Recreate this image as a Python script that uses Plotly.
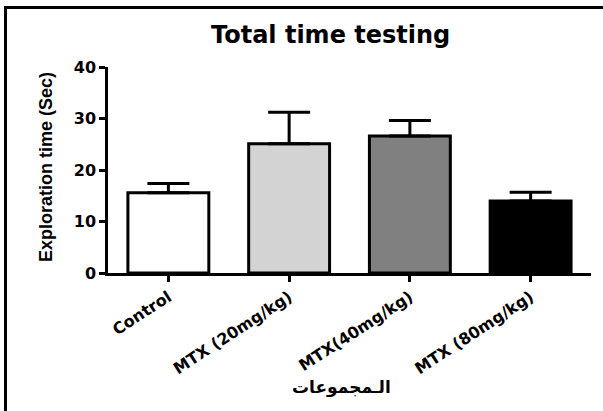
import plotly.graph_objects as go

categories = ["Control", "MTX (20mg/kg)", "MTX(40mg/kg)", "MTX (80mg/kg)"]
means = [15.6, 25.1, 26.6, 14.0]
errors = [1.8, 6.1, 3.0, 1.7]
bar_colors = ["#ffffff", "#d3d3d3", "#808080", "#000000"]
y_ticks = [0, 10, 20, 30, 40]
title_text = "Total time testing"
y_title = "Exploration time (Sec)"
x_title = "الـمجموعات"

W, H = 603, 411
L, R, T, B = 108, 12, 67, 138
pw, ph = W - L - R, H - T - B

def px_x(x):
    return (x - L) / pw

def px_y(y):
    return (H - B - y) / ph

fig = go.Figure()
fig.add_trace(go.Bar(
    x=list(range(len(categories))), y=means,
    width=0.67,
    marker=dict(color=bar_colors, line=dict(color="black", width=3)),
    error_y=dict(type="data", array=errors, arrayminus=[0]*len(errors),
                 symmetric=False, thickness=3, width=21, color="black"),
))

fig.update_layout(
    width=W, height=H,
    margin=dict(l=L, r=R, t=T, b=B, autoexpand=False),
    plot_bgcolor="white", paper_bgcolor="white",
    showlegend=False,
    xaxis=dict(range=[-0.5, 3.5], tickvals=list(range(len(categories))),
               ticktext=categories, tickangle=-33, ticks="outside",
               ticklen=6, tickwidth=2.5, tickcolor="black",
               showline=True, linewidth=2.5, linecolor="black",
               showgrid=False, zeroline=False,
               tickfont=dict(family="DejaVu Sans", size=16, color="black", weight="bold")),
    yaxis=dict(range=[0, 40], tickvals=y_ticks, ticks="outside",
               ticklen=6, tickwidth=2.5, tickcolor="black",
               showline=True, linewidth=2.5, linecolor="black",
               showgrid=False, zeroline=False,
               tickfont=dict(family="DejaVu Sans", size=16, color="black", weight="bold")),
)

fig.add_annotation(text=title_text, xref="paper", yref="paper",
                   x=px_x(330), y=px_y(35), xanchor="center", yanchor="middle",
                   showarrow=False,
                   font=dict(family="DejaVu Sans", size=24, color="black", weight="bold"))
fig.add_annotation(text=y_title, xref="paper", yref="paper",
                   x=px_x(46), y=px_y(167), xanchor="center", yanchor="middle",
                   textangle=-90, showarrow=False,
                   font=dict(family="Liberation Sans", size=18, color="black", weight="bold"))
fig.add_annotation(text=x_title, xref="paper", yref="paper",
                   x=px_x(341), y=px_y(387), xanchor="center", yanchor="middle",
                   showarrow=False,
                   font=dict(family="DejaVu Sans", size=17, color="black", weight="bold"))

# frame (top and left edges visible in the reference)
fig.add_shape(type="line", xref="paper", yref="paper",
              x0=px_x(4), x1=px_x(620), y0=px_y(7.5), y1=px_y(7.5),
              line=dict(color="black", width=3))
fig.add_shape(type="line", xref="paper", yref="paper",
              x0=px_x(5.5), x1=px_x(5.5), y0=px_y(6), y1=px_y(430),
              line=dict(color="black", width=3))

fig.write_html("out.html")
